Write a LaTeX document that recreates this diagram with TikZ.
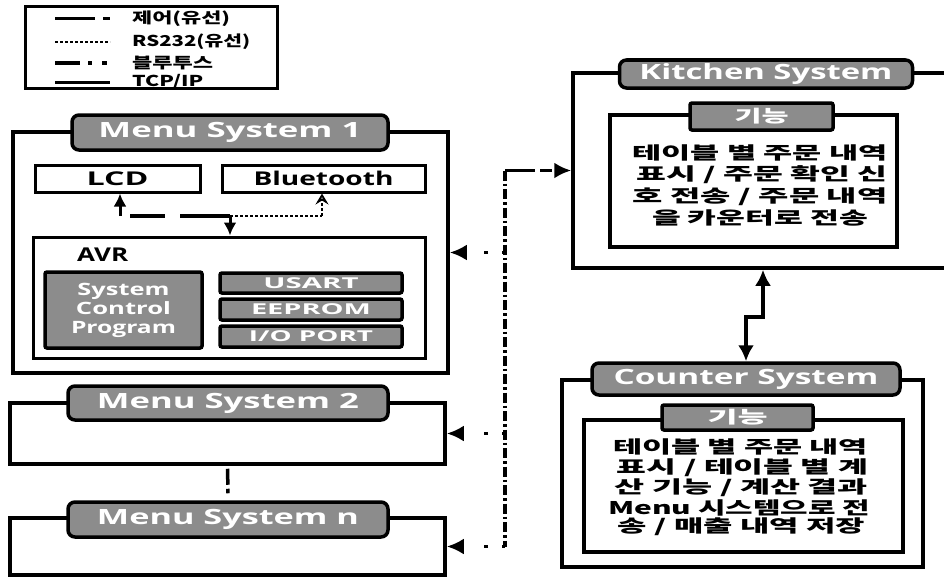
\documentclass[tikz,border=0pt]{standalone}
\usepackage{fontspec}
\usepackage{graphicx}
\setmainfont{Open Sans}
\newfontfamily\kr{Noto Sans CJK KR}
\usetikzlibrary{arrows.meta}
\newcommand{\fw}[2]{\resizebox{#1pt}{\height}{#2}}
\tikzset{
  frame/.style={draw=black, line width=3.5pt, rectangle, inner sep=0pt, fill=white},
  tabbox/.style={draw=black, line width=3.5pt, rounded corners=7pt, fill=black!45, inner sep=0pt,
     text=white, font=\bfseries\fontsize{21}{21}\selectfont},
  fnbox/.style={draw=black, line width=3.5pt, rounded corners=2pt, fill=black!45, inner sep=0pt,
     text=white, font=\kr\bfseries\fontsize{17}{17}\selectfont},
  gbox/.style={draw=black, line width=3.5pt, rounded corners=2pt, fill=black!45, inner sep=0pt,
     text=white},
  krline/.style={inner sep=0pt, font=\kr\bfseries\fontsize{17.5}{17.5}\selectfont},
  legtext/.style={inner sep=0pt, anchor=west, font=\kr\bfseries\fontsize{15}{15}\selectfont},
  btline/.style={line width=4pt, dash pattern=on 10pt off 3pt on 2.5pt off 3pt},
  btarrow/.style={line width=3.5pt, dash pattern=on 3pt off 14pt on 4pt off 60pt,
     -{Latex[length=17pt,width=16pt]}},
  ctrlline/.style={line width=3.5pt},
  rsline/.style={line width=2.5pt, dash pattern=on 3pt off 2pt},
  tcpline/.style={line width=3.5pt},
}
\begin{document}
\begin{tikzpicture}[x=1pt,y=-1pt]
\useasboundingbox (0,0) rectangle (944,578);
\fill[white] (0,0) rectangle (944,578);

% ---------- legend ----------
\node[draw=black, line width=3pt, minimum width=252pt, minimum height=81pt, inner sep=0pt] (leg) at (151,47.5) {};
\coordinate (l1a) at (55,19);  \coordinate (l1b) at (110,19);
\coordinate (l2a) at (55,42);  \coordinate (l2b) at (110,42);
\coordinate (l3a) at (55,63);  \coordinate (l3b) at (110,63);
\coordinate (l4a) at (55,82);  \coordinate (l4b) at (110,82);
\draw[line width=3pt, dash pattern=on 40pt off 8pt on 7pt off 20pt] (l1a) -- (l1b);
\draw[line width=2.5pt, dash pattern=on 3pt off 2pt] (l2a) -- (l2b);
\draw[line width=3.5pt, dash pattern=on 25pt off 8pt on 4pt off 10pt on 5pt off 20pt] (l3a) -- (l3b);
\draw[line width=3pt] (l4a) -- (l4b);
\node[legtext] (lt1) at (132,19) {\fw{98}{제어(유선)}};
\node[legtext] (lt2) at (132,42) {\fw{118}{RS232(유선)}};
\node[legtext] (lt3) at (132,63) {\fw{81}{블루투스}};
\node[legtext] (lt4) at (132,82) {\fw{71}{TCP/IP}};

% ---------- Menu System 1 ----------
\node[frame, minimum width=435pt, minimum height=241pt] (m1) at (230.5,252.5) {};
\node[tabbox, minimum width=316pt, minimum height=35pt] (m1t) at (230,132.5) {\fw{263}{Menu System 1}};
\node[frame, line width=3pt, minimum width=165pt, minimum height=27pt, font=\bfseries\fontsize{19}{19}\selectfont] (lcd) at (117.5,178.5) {\fw{62}{LCD}};
\node[frame, line width=3pt, minimum width=203pt, minimum height=27pt, font=\bfseries\fontsize{19}{19}\selectfont] (blue) at (323.5,178.5) {\fw{140}{Bluetooth}};
\node[frame, line width=3pt, minimum width=392pt, minimum height=121pt] (avr) at (229,297.5) {};
\node[inner sep=0pt, anchor=west, font=\bfseries\fontsize{19}{19}\selectfont] (avrl) at (77,255) {\fw{51}{AVR}};
\node[gbox, minimum width=157pt, minimum height=76pt, align=center, font=\bfseries\fontsize{17}{19}\selectfont] (scp) at (123.5,310)
  {\fw{92}{System}\\\fw{95}{Control}\\\fw{105}{Program}};
\node[gbox, minimum width=182pt, minimum height=20pt, font=\bfseries\fontsize{15}{15}\selectfont] (usart) at (311,283) {\fw{95}{USART}};
\node[gbox, minimum width=182pt, minimum height=21pt, font=\bfseries\fontsize{15}{15}\selectfont] (eeprom) at (311,309.5) {\fw{120}{EEPROM}};
\node[gbox, minimum width=182pt, minimum height=21pt, font=\bfseries\fontsize{15}{15}\selectfont] (ioport) at (311,336.5) {\fw{124}{I/O PORT}};

\coordinate (jn) at (230,216);
\coordinate (jl) at (120,216);
\coordinate (jb) at (322,216);
\draw[ctrlline, dash pattern=on 0pt off 10pt on 35pt off 15pt on 60pt off 0pt] (jl) -- (jn);
\draw[line width=3pt, -{Latex[length=13pt,width=13pt]}] (jl) -- (jl |- lcd.south);
\draw[line width=3pt, -{Latex[length=13pt,width=13pt]}] (jn) -- (jn |- avr.north);
\draw[rsline] (jn) -- (jb);
\draw[rsline, -{Stealth[length=11pt,width=13pt,inset=4pt,open]}] (jb) -- (jb |- blue.south);

% ---------- Menu System 2 and n ----------
\node[frame, minimum width=435pt, minimum height=61pt] (m2) at (227.5,433.5) {};
\node[tabbox, minimum width=320pt, minimum height=34pt] (m2t) at (228,403) {\fw{262}{Menu System 2}};
\node[frame, minimum width=435pt, minimum height=57pt] (mn) at (227.5,546.5) {};
\node[tabbox, minimum width=320pt, minimum height=35pt] (mnt) at (228,519.5) {\fw{262}{Menu System n}};
\draw[ctrlline, dash pattern=on 0pt off 3pt on 16pt off 4pt on 7pt off 20pt] (m2.south) -- ([yshift=7pt]mnt.north);

% ---------- Kitchen System ----------
\node[frame, minimum width=387pt, minimum height=195pt] (k) at (766.5,170.5) {};
\node[tabbox, minimum width=293pt, minimum height=28pt] (kt) at (766,74) {\fw{253}{Kitchen System}};
\node[frame, minimum width=287pt, minimum height=132pt] (ki) at (753.5,181) {};
\node[fnbox, minimum width=143pt, minimum height=27pt] (kf) at (761.5,116.5) {\fw{54}{기능}};
\node[krline] (k1) at (760,153) {\fw{255}{테이블 별 주문 내역}};
\node[krline] (k2) at (762,175) {\fw{251}{표시 / 주문 확인 신}};
\node[krline] (k3) at (760,197) {\fw{255}{호 전송 / 주문 내역}};
\node[krline] (k4) at (760,218) {\fw{216}{을 카운터로 전송}};

% ---------- Counter System ----------
\node[frame, minimum width=361pt, minimum height=187pt] (c) at (742.5,473.5) {};
\node[tabbox, minimum width=308pt, minimum height=32pt] (ct) at (746,379) {\fw{265}{Counter System}};
\node[frame, minimum width=319pt, minimum height=132pt] (ci) at (743.5,486) {};
\node[fnbox, minimum width=151pt, minimum height=25pt] (cf) at (737.5,417.5) {\fw{60}{기능}};
\node[krline] (c1) at (740.5,447) {\fw{255}{테이블 별 주문 내역}};
\node[krline] (c2) at (742.5,468) {\fw{251}{표시 / 테이블 별 계}};
\node[krline] (c3) at (741.5,488) {\fw{253}{산 기능 / 계산 결과}};
\node[krline] (c4) at (739,508) {\fw{262}{Menu 시스템으로 전}};
\node[krline] (c5) at (741.5,527) {\fw{247}{송 / 매출 내역 저장}};

% ---------- connectors ----------
\coordinate (btop) at (505,170.5);
\coordinate (bbot) at (505,546.5);
\draw[btline] (btop) -- (bbot);
\draw[line width=3.5pt, dash pattern=on 30pt off 5pt on 12pt off 40pt, -{Latex[length=17pt,width=16pt]}] (btop) -- (k.west);
\draw[btarrow] (m1.east -| btop) -- (m1.east);
\draw[btarrow] (m2.east -| btop) -- (m2.east);
\draw[btarrow] (mn.east -| btop) -- (mn.east);
\draw[tcpline, {Latex[length=16pt,width=16pt]}-{Latex[length=16pt,width=16pt]}]
  ([xshift=-3.5pt]k.south) -- ++(0,47) -| (ct.north);
\end{tikzpicture}
\end{document}
